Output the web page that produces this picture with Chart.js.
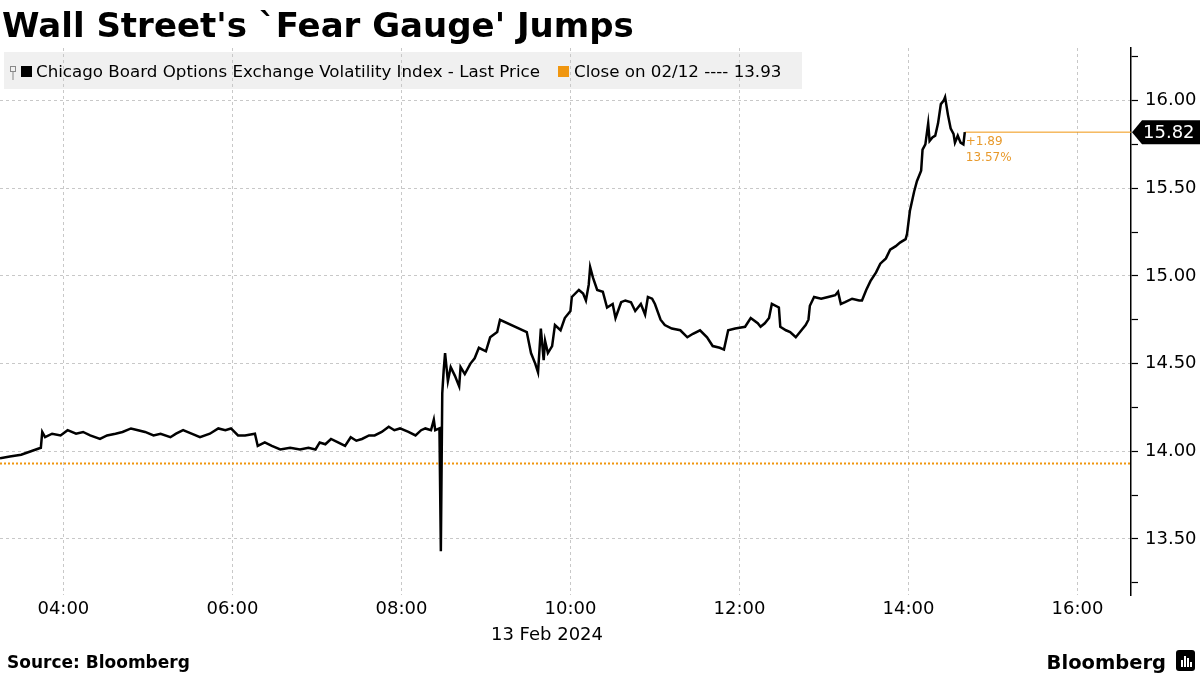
<!DOCTYPE html>
<html>
<head>
<meta charset="utf-8">
<script src="https://cdn.jsdelivr.net/npm/chart.js@4.4.1/dist/chart.umd.min.js"></script>
<style>
    html, body { margin: 0; padding: 0; background: #fff; }
    #wrap { width: 1200px; height: 675px; position: relative; }
</style>
</head>
<body>
<div id="wrap"><canvas id="myChart"></canvas></div>
<script>
// VIX intraday, 13 Feb 2024
const times = [
    '03:15', '03:22', '03:30', '03:37', '03:44', '03:45', '03:47', '03:52', '03:58', '04:03',
    '04:09', '04:14', '04:19', '04:26', '04:31', '04:37', '04:42', '04:48', '04:53', '04:58',
    '05:04', '05:09', '05:16', '05:20', '05:25', '05:31', '05:37', '05:44', '05:50', '05:55',
    '05:59', '06:04', '06:09', '06:16', '06:18', '06:23', '06:28', '06:34', '06:41', '06:48',
    '06:54', '06:59', '07:02', '07:06', '07:10', '07:15', '07:20', '07:24', '07:28', '07:32',
    '07:37', '07:41', '07:46', '07:51', '07:55', '07:59', '08:05', '08:10', '08:14', '08:17',
    '08:21', '08:23', '08:24', '08:27', '08:28', '08:29', '08:30', '08:31', '08:33', '08:35',
    '08:38', '08:41', '08:42', '08:45', '08:49', '08:52', '08:55', '09:00', '09:03', '09:08',
    '09:10', '09:29', '09:32', '09:35', '09:37', '09:39', '09:41', '09:42', '09:44', '09:47',
    '09:49', '09:53', '09:56', '10:00', '10:01', '10:06', '10:09', '10:11', '10:13', '10:14',
    '10:16', '10:19', '10:23', '10:26', '10:30', '10:32', '10:36', '10:39', '10:43', '10:46',
    '10:50', '10:53', '10:55', '10:58', '11:00', '11:04', '11:07', '11:12', '11:18', '11:23',
    '11:27', '11:32', '11:37', '11:41', '11:46', '11:49', '11:52', '11:57', '12:04', '12:08',
    '12:13', '12:15', '12:18', '12:21', '12:23', '12:28', '12:29', '12:33', '12:36', '12:40',
    '12:43', '12:47', '12:49', '12:50', '12:53', '12:58', '13:03', '13:08', '13:10', '13:12',
    '13:15', '13:20', '13:25', '13:27', '13:30', '13:33', '13:37', '13:40', '13:44', '13:47',
    '13:51', '13:54', '13:58', '13:59', '14:01', '14:04', '14:06', '14:09', '14:10', '14:12',
    '14:14', '14:15', '14:17', '14:19', '14:21', '14:23', '14:25', '14:26', '14:28', '14:30',
    '14:32', '14:33', '14:35', '14:37', '14:39', '14:40'
];
const vix = [
    13.96, 13.97, 13.98, 14.00, 14.02, 14.11, 14.08, 14.10, 14.09, 14.12,
    14.10, 14.11, 14.09, 14.07, 14.09, 14.10, 14.11, 14.13, 14.12, 14.11,
    14.09, 14.10, 14.08, 14.10, 14.12, 14.10, 14.08, 14.10, 14.13, 14.12,
    14.13, 14.09, 14.09, 14.10, 14.03, 14.05, 14.03, 14.01, 14.02, 14.01,
    14.02, 14.01, 14.05, 14.04, 14.07, 14.05, 14.03, 14.08, 14.06, 14.07,
    14.09, 14.09, 14.11, 14.14, 14.12, 14.13, 14.11, 14.09, 14.12, 14.13,
    14.12, 14.18, 14.12, 14.13, 13.43, 14.33, 14.46, 14.56, 14.40, 14.48,
    14.43, 14.37, 14.48, 14.44, 14.50, 14.53, 14.59, 14.57, 14.65, 14.68,
    14.75, 14.68, 14.56, 14.50, 14.45, 14.70, 14.52, 14.63, 14.56, 14.60,
    14.72, 14.69, 14.76, 14.80, 14.88, 14.92, 14.90, 14.86, 14.95, 15.05,
    14.99, 14.92, 14.91, 14.82, 14.84, 14.76, 14.85, 14.86, 14.85, 14.80,
    14.84, 14.78, 14.88, 14.87, 14.84, 14.75, 14.72, 14.70, 14.69, 14.65,
    14.67, 14.69, 14.65, 14.60, 14.59, 14.58, 14.69, 14.70, 14.71, 14.76,
    14.73, 14.71, 14.73, 14.76, 14.84, 14.82, 14.71, 14.69, 14.68, 14.65,
    14.68, 14.72, 14.75, 14.83, 14.88, 14.87, 14.88, 14.89, 14.91, 14.84,
    14.85, 14.87, 14.86, 14.86, 14.92, 14.97, 15.02, 15.07, 15.10, 15.15,
    15.17, 15.19, 15.21, 15.24, 15.37, 15.48, 15.54, 15.60, 15.72, 15.75,
    15.87, 15.77, 15.79, 15.80, 15.87, 15.98, 16.00, 16.02, 15.92, 15.84,
    15.81, 15.76, 15.80, 15.76, 15.75, 15.82
];
const prevClose = 13.93;
const xTickLabels = ['04:00', '06:00', '08:00', '10:00', '12:00', '14:00', '16:00'];
const yTicks = [13.25, 13.5, 13.75, 14, 14.25, 14.5, 14.75, 15, 15.25, 15.5, 15.75, 16, 16.25];

const toMin = s => { const [h, m] = s.split(':').map(Number); return h * 60 + m; };
const fmtMin = v => String(Math.floor(v / 60)).padStart(2, '0') + ':' + String(Math.round(v % 60)).padStart(2, '0');

const X_MIN = toMin('03:15');
const X_MAX = toMin('16:38');
const ORANGE = '#f0960f';
const FONT = '"DejaVu Sans", Verdana, sans-serif';

const lastT = toMin(times[times.length - 1]);
const lastV = vix[vix.length - 1];
const points = times.map((t, i) => ({ x: toMin(t), y: vix[i] }));

const decor = {
    id: 'decor',
    beforeDraw(chart) {
        const c = chart.ctx;
        c.save();
        c.fillStyle = '#f0f0f0';
        c.fillRect(4, 52, 798, 37);
        c.restore();
    },
    afterDraw(chart) {
        const c = chart.ctx;
        const x = chart.scales.x, y = chart.scales.y;
        c.save();

        // title
        c.fillStyle = '#000';
        c.font = 'bold 34px ' + FONT;
        c.textBaseline = 'alphabetic';
        c.textAlign = 'left';
        c.fillText("Wall Street's `Fear Gauge' Jumps", 2, 37);

        // legend
        c.strokeStyle = '#888';
        c.lineWidth = 1;
        c.strokeRect(10.5, 66.5, 5, 5);
        c.beginPath(); c.moveTo(13, 72); c.lineTo(13, 80); c.stroke();
        c.fillStyle = '#000';
        c.fillRect(21, 66, 11, 11);
        c.font = '16.7px ' + FONT;
        c.fillText('Chicago Board Options Exchange Volatility Index - Last Price', 36, 77);
        c.fillStyle = ORANGE;
        c.fillRect(558, 66, 11, 11);
        c.fillStyle = '#000';
        c.fillText('Close on 02/12 ---- ' + prevClose.toFixed(2), 574, 77);

        // change annotation
        const px = x.getPixelForValue(lastT), py = y.getPixelForValue(lastV);
        c.fillStyle = '#e89a2c';
        c.font = '12px ' + FONT;
        const chg = lastV - prevClose;
        c.fillText('+' + chg.toFixed(2), px + 1, py + 13);
        c.fillText((chg / prevClose * 100).toFixed(2) + '%', px + 1, py + 29);

        // last price tag
        const ax = chart.chartArea.right;
        c.fillStyle = '#000';
        c.beginPath();
        c.moveTo(ax + 1, py);
        c.lineTo(ax + 11, py - 12);
        c.lineTo(1200, py - 12);
        c.lineTo(1200, py + 12);
        c.lineTo(ax + 11, py + 12);
        c.closePath();
        c.fill();
        c.fillStyle = '#fff';
        c.font = '18px ' + FONT;
        c.textBaseline = 'middle';
        c.fillText(lastV.toFixed(2), ax + 12, py + 1);

        // date under axis
        c.fillStyle = '#000';
        c.textAlign = 'center';
        c.fillText('13 Feb 2024', 547, 635);

        // footer
        c.textAlign = 'left';
        c.textBaseline = 'alphabetic';
        c.font = 'bold 17px ' + FONT;
        c.fillText('Source: Bloomberg', 7, 668);
        c.textAlign = 'right';
        c.font = 'bold 19.5px ' + FONT;
        c.fillText('Bloomberg', 1166, 669);
        c.beginPath();
        c.roundRect(1176, 650, 19, 21, 3);
        c.fill();
        c.fillStyle = '#fff';
        [[1181, 660, 2, 7], [1184, 656, 2, 11], [1187, 658, 2, 9], [1190, 662, 2, 5]].forEach(r => c.fillRect(...r));
        c.restore();
    }
};

const ctx = document.getElementById('myChart');

const myChart = new Chart(ctx, {
    type: 'line',
    data: {
        datasets: [
            {
                label: 'VIX',
                data: points,
                borderColor: '#000',
                borderWidth: 2.5,
                pointRadius: 0,
                tension: 0,
                order: 1
            },
            {
                label: 'Close on 02/12',
                data: [{ x: X_MIN, y: prevClose }, { x: X_MAX, y: prevClose }],
                borderColor: ORANGE,
                borderWidth: 2,
                borderDash: [2, 2],
                pointRadius: 0,
                order: 2
            },
            {
                label: 'last',
                data: [{ x: lastT, y: lastV }, { x: X_MAX, y: lastV }],
                borderColor: ORANGE,
                borderWidth: 1,
                pointRadius: 0,
                order: 2
            }
        ]
    },
    options: {
        responsive: true,
        maintainAspectRatio: false,
        animation: false,
        events: [],
        layout: { padding: { top: 48, left: 0, right: 0, bottom: 0 } },
        plugins: {
            legend: { display: false },
            tooltip: { enabled: false }
        },
        scales: {
            x: {
                type: 'linear',
                min: X_MIN,
                max: X_MAX,
                afterBuildTicks: scale => { scale.ticks = xTickLabels.map(t => ({ value: toMin(t) })); },
                afterFit: scale => { scale.height = 80; },
                ticks: {
                    callback: v => fmtMin(v),
                    font: { family: FONT, size: 18 },
                    color: '#000',
                    padding: 4,
                    maxRotation: 0,
                    autoSkip: false
                },
                grid: { color: '#c8c8c8', drawTicks: false, lineWidth: 1 },
                border: { display: false, dash: [3, 3] }
            },
            y: {
                position: 'right',
                min: 13.18,
                max: 16.30,
                afterBuildTicks: scale => { scale.ticks = yTicks.map(v => ({ value: v })); },
                afterFit: scale => { scale.width = 69; },
                ticks: {
                    callback: v => (Math.round(v * 100) % 50 === 0 ? v.toFixed(2) : ''),
                    font: { family: FONT, size: 18 },
                    color: '#000',
                    padding: 7,
                    autoSkip: false
                },
                grid: {
                    color: c => (c.tick && Math.round(c.tick.value * 100) % 50 === 0 ? '#c8c8c8' : 'rgba(0,0,0,0)'),
                    tickColor: '#000',
                    tickLength: 7,
                    tickWidth: 1.2,
                    tickBorderDash: []
                },
                border: { display: true, color: '#000', width: 1.5, dash: [3, 3] }
            }
        }
    },
    plugins: [decor]
});
</script>
</body>
</html>
